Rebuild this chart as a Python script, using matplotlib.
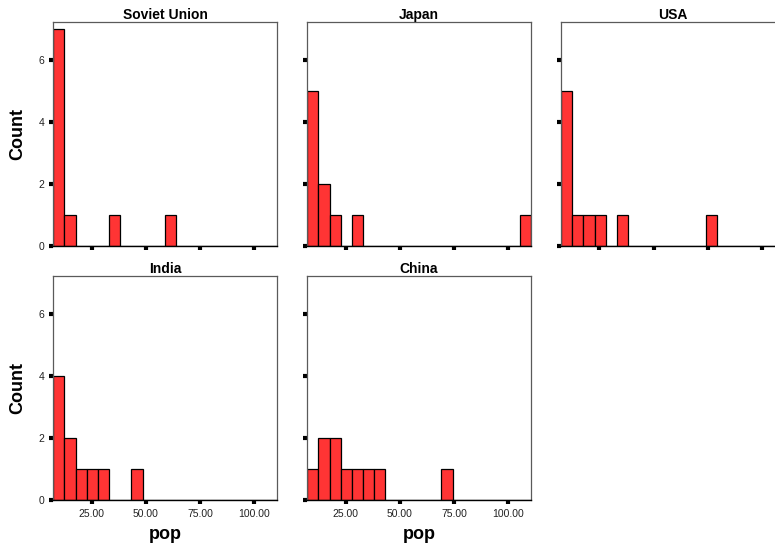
import numpy as np
import matplotlib
matplotlib.use("Agg")
import matplotlib.pyplot as plt

plt.rcParams["font.family"] = ["Liberation Sans", "DejaVu Sans"]

# ---- data: counts per bin of "pop" for each country (20 equal-width bins) ----
countries = ["Soviet Union", "Japan", "USA", "India", "China"]
soviet_counts = [7, 1, 0, 0, 0, 1, 0, 0, 0, 0, 1, 0, 0, 0, 0, 0, 0, 0, 0, 0]
japan_counts = [5, 2, 1, 0, 1, 0, 0, 0, 0, 0, 0, 0, 0, 0, 0, 0, 0, 0, 0, 1]
usa_counts = [5, 1, 1, 1, 0, 1, 0, 0, 0, 0, 0, 0, 0, 1, 0, 0, 0, 0, 0, 0]
india_counts = [4, 2, 1, 1, 1, 0, 0, 1, 0, 0, 0, 0, 0, 0, 0, 0, 0, 0, 0, 0]
china_counts = [1, 2, 2, 1, 1, 1, 1, 0, 0, 0, 0, 0, 1, 0, 0, 0, 0, 0, 0, 0]
all_counts = [soviet_counts, japan_counts, usa_counts, india_counts, china_counts]

x_ticks = [25, 50, 75, 100]
x_tick_labels = ["25.00", "50.00", "75.00", "100.00"]
y_ticks = [0, 2, 4, 6]

# ---- binning / scales ----
BIN_LO, BIN_HI, N_BINS = 7.3, 110.3, 20
edges = np.linspace(BIN_LO, BIN_HI, N_BINS + 1)
Y_MAX = 7.22

BAR = "#FF3434"
SPINE = "#5a5a5a"

W, H = 775, 546
fig = plt.figure(figsize=(W / 100, H / 100), dpi=100)

# panel pixel boxes (left, top), all panels share the same size
PW, PH = 223.4, 224
cols = [53.3, 307.3, 561.0]
rows = [22, 276]
slots = [(0, 0), (0, 1), (0, 2), (1, 0), (1, 1)]

for name, counts, (r, c) in zip(countries, all_counts, slots):
    left, top = cols[c], rows[r]
    ax = fig.add_axes([left / W, 1 - (top + PH) / H, PW / W, PH / H])
    ax.hist(edges[:-1], bins=edges, weights=counts, color=BAR,
            edgecolor="black", linewidth=0.9, zorder=2)
    ax.set_xlim(BIN_LO, BIN_HI)
    ax.set_ylim(0, Y_MAX)

    for s in ("top", "right", "left"):
        ax.spines[s].set_color(SPINE)
        ax.spines[s].set_linewidth(0.9)
    ax.spines["bottom"].set_color("black")
    ax.spines["bottom"].set_linewidth(1.0)

    ax.set_xticks(x_ticks)
    ax.set_yticks(y_ticks)
    ax.tick_params(direction="out", length=3.2, width=3.0, color="black",
                   labelsize=7.5, labelcolor="#222222", pad=3)

    if r == 1:
        ax.set_xticklabels(x_tick_labels)
        ax.set_xlabel("pop", fontsize=13, fontweight="bold", labelpad=5)
    else:
        ax.set_xticklabels([])
    if c == 0:
        ax.set_ylabel("Count", fontsize=13, fontweight="bold", labelpad=9)
    else:
        ax.set_yticklabels([])

    ax.set_title(name, fontsize=10, fontweight="bold", pad=2)

fig.savefig("out.png", dpi=100)
